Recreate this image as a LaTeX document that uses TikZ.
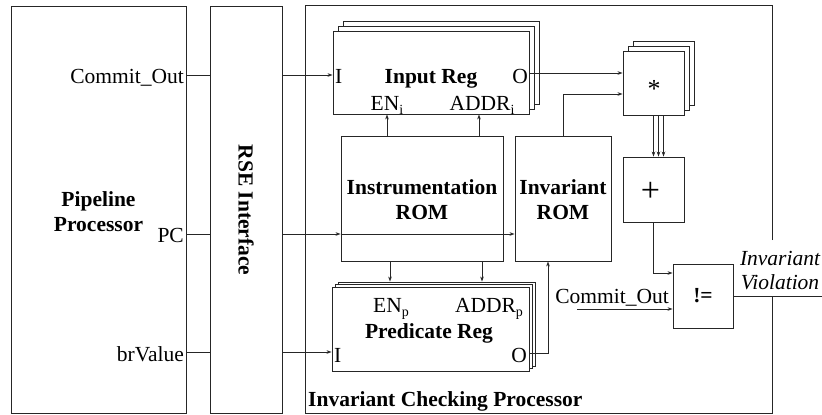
\documentclass[tikz,border=0pt]{standalone}
\usepackage{fontspec}
\setmainfont{Liberation Serif}
\usetikzlibrary{arrows.meta,calc}
\newcommand{\figfont}{\fontsize{21.5}{25}\selectfont}
\newcommand{\lowsub}[1]{\raisebox{-0.22em}{\fontsize{14}{14}\selectfont #1}}
\begin{document}
\begin{tikzpicture}[x=1pt,y=-1pt,
  every node/.style={font=\figfont, inner sep=0pt},
  box/.style n args={2}{draw=black!85, line width=0.9pt, fill=white,
    minimum width=#1pt, minimum height=#2pt},
  wire/.style={draw=black!85, line width=0.9pt},
  arr/.style={wire, -{Stealth[length=5pt,width=3.6pt]}},
  title/.style={font=\figfont\bfseries, align=center},
]
\useasboundingbox (0,0) rectangle (822,415);

% ---- outer blocks ----
\node[box={175}{407}] (pipe) at (98.5,209.5) {};
\node[box={72}{407}] (rse) at (246,209.5) {};
\node[minimum width=466pt, minimum height=407pt] (icp) at (539,209.5) {};

% ---- register banks (two copies stacked behind each front box) ----
\node[box={196}{83}, xshift=10pt, yshift=10pt] (inreg2) at (431,72.5) {};
\node[box={196}{83}, xshift=5pt, yshift=5pt] (inreg1) at (431,72.5) {};
\node[box={196}{83}] (inreg) at (431,72.5) {};

\node[box={197}{84}, xshift=6pt, yshift=5pt] (pred2) at (430.5,329) {};
\node[box={197}{84}, xshift=3pt, yshift=2.5pt] (pred1) at (430.5,329) {};
\node[box={197}{84}] (pred) at (430.5,329) {};

\node[box={61}{64}, xshift=10.5pt, yshift=10pt] (mul2) at (653.5,83) {};
\node[box={61}{64}, xshift=5pt, yshift=5pt] (mul1) at (653.5,83) {};
\node[box={61}{64}] (mul) at (653.5,83) {};

% ---- ROMs and arithmetic ----
\node[box={162}{125}] (instrom) at (422,198.5) {};
\node[box={96}{125}] (invrom) at (563,198.5) {};
\node[box={61}{65}] (add) at (653.5,189.5) {};
\node[box={60}{64}] (neq) at (703,296) {};

% ---- block titles ----
\node[title] (tpipe) at (98.5,212) {Pipeline\\Processor};
\node[title, rotate=-90] (trse) at (246,210) {RSE Interface};
\node[title] (tinst) at (422,199.5) {Instrumentation\\ROM};
\node[title] (tinv) at (563,199.5) {Invariant\\ROM};
\node[title, anchor=base west] (ticp) at (308,406) {Invariant Checking Processor};

% ---- register labels ----
\node[anchor=base west] (inI) at (335,83) {I};
\node[title, anchor=base] (tinreg) at (431,83) {Input Reg};
\node[anchor=base east] (inO) at (528,83) {O};
\node[anchor=base] (inEN) at (387,110) {EN\lowsub{i}};
\node[anchor=base] (inAD) at (482,110) {ADDR\lowsub{i}};

\node[anchor=base] (prEN) at (391,312) {EN\lowsub{p}};
\node[anchor=base] (prAD) at (489,312) {ADDR\lowsub{p}};
\node[title, anchor=base] (tpred) at (429,338) {Predicate Reg};
\node[anchor=base west] (prI) at (334,362) {I};
\node[anchor=base east] (prO) at (527,362) {O};

% ---- operators ----
\node[font=\fontsize{26}{26}\selectfont] (tmul) at (654,89.4) {*};
\node[font=\fontsize{34}{34}\selectfont] (tadd) at (650.5,191.5) {+};
\node[font=\figfont\bfseries] (tneq) at (703,296) {!=};

% ---- signal names ----
\node[anchor=base east] (sCO) at (184,83) {Commit\_Out};
\node[anchor=base east] (sPC) at (184,242) {PC};
\node[anchor=base east] (sBR) at (184,361) {brValue};
\node[anchor=base east] (sCO2) at (669,303) {Commit\_Out};
\node[align=center, font=\fontsize{21.5}{23.5}\selectfont\itshape] (viol) at (780,270.5) {Invariant\\Violation};

% ---- levels used by the connectors ----
\coordinate (yCO) at (0,75);
\coordinate (yPC) at (0,234);
\coordinate (yBR) at (0,352);
\coordinate (yO) at (0,73);
\coordinate (yIR) at (0,94);
\coordinate (yAdd) at (0,273);
\coordinate (yPO) at (0,353);
\coordinate (xPO) at (548,0);
\coordinate (xENi) at (387,0);
\coordinate (xADi) at (479,0);
\coordinate (xENp) at (390,0);
\coordinate (xADp) at (482,0);
\coordinate (coIn) at (577,309);
\coordinate (vEnd) at (822,296);

% ---- checking processor outline, open where the violation output leaves ----
\draw[wire] (icp.east |- 0,240) -- (icp.north east) -- (icp.north west)
  -- (icp.south west) -- (icp.south east) -- (icp.east |- vEnd);

% ---- connectors ----
\draw[wire] (pipe.east |- yCO) -- (rse.west |- yCO);
\draw[arr] (rse.east |- yCO) -- (inreg.west |- yCO);
\draw[wire] (pipe.east |- yPC) -- (rse.west |- yPC);
\draw[arr] (rse.east |- yPC) -- (instrom.west |- yPC);
\draw[arr] (instrom.west |- yPC) -- (invrom.west |- yPC);
\draw[wire] (pipe.east |- yBR) -- (rse.west |- yBR);
\draw[arr] (rse.east |- yBR) -- (pred.west |- yBR);

\draw[arr] (instrom.north -| xENi) -- (inreg.south -| xENi);
\draw[arr] (instrom.north -| xADi) -- (inreg.south -| xADi);
\draw[arr] (instrom.south -| xENp) -- (pred2.north -| xENp);
\draw[arr] (instrom.south -| xADp) -- (pred2.north -| xADp);

\draw[arr] (inreg.east |- yO) -- (mul.west |- yO);
\draw[arr] (invrom.north) |- (mul.west |- yIR);
\draw[arr] (pred.east |- yPO) -| (invrom.south -| xPO);

\draw[arr] (mul.south) -- (add.north);
\draw[arr] ([xshift=5pt]mul.south) -- ([xshift=5pt]add.north);
\draw[arr] ([xshift=10pt]mul.south) -- ([xshift=10pt]add.north);

\draw[arr] (add.south) |- (neq.west |- yAdd);
\draw[arr] (coIn) -- (neq.west |- coIn);
\draw[wire] (neq.east) -- (vEnd);
\end{tikzpicture}
\end{document}
